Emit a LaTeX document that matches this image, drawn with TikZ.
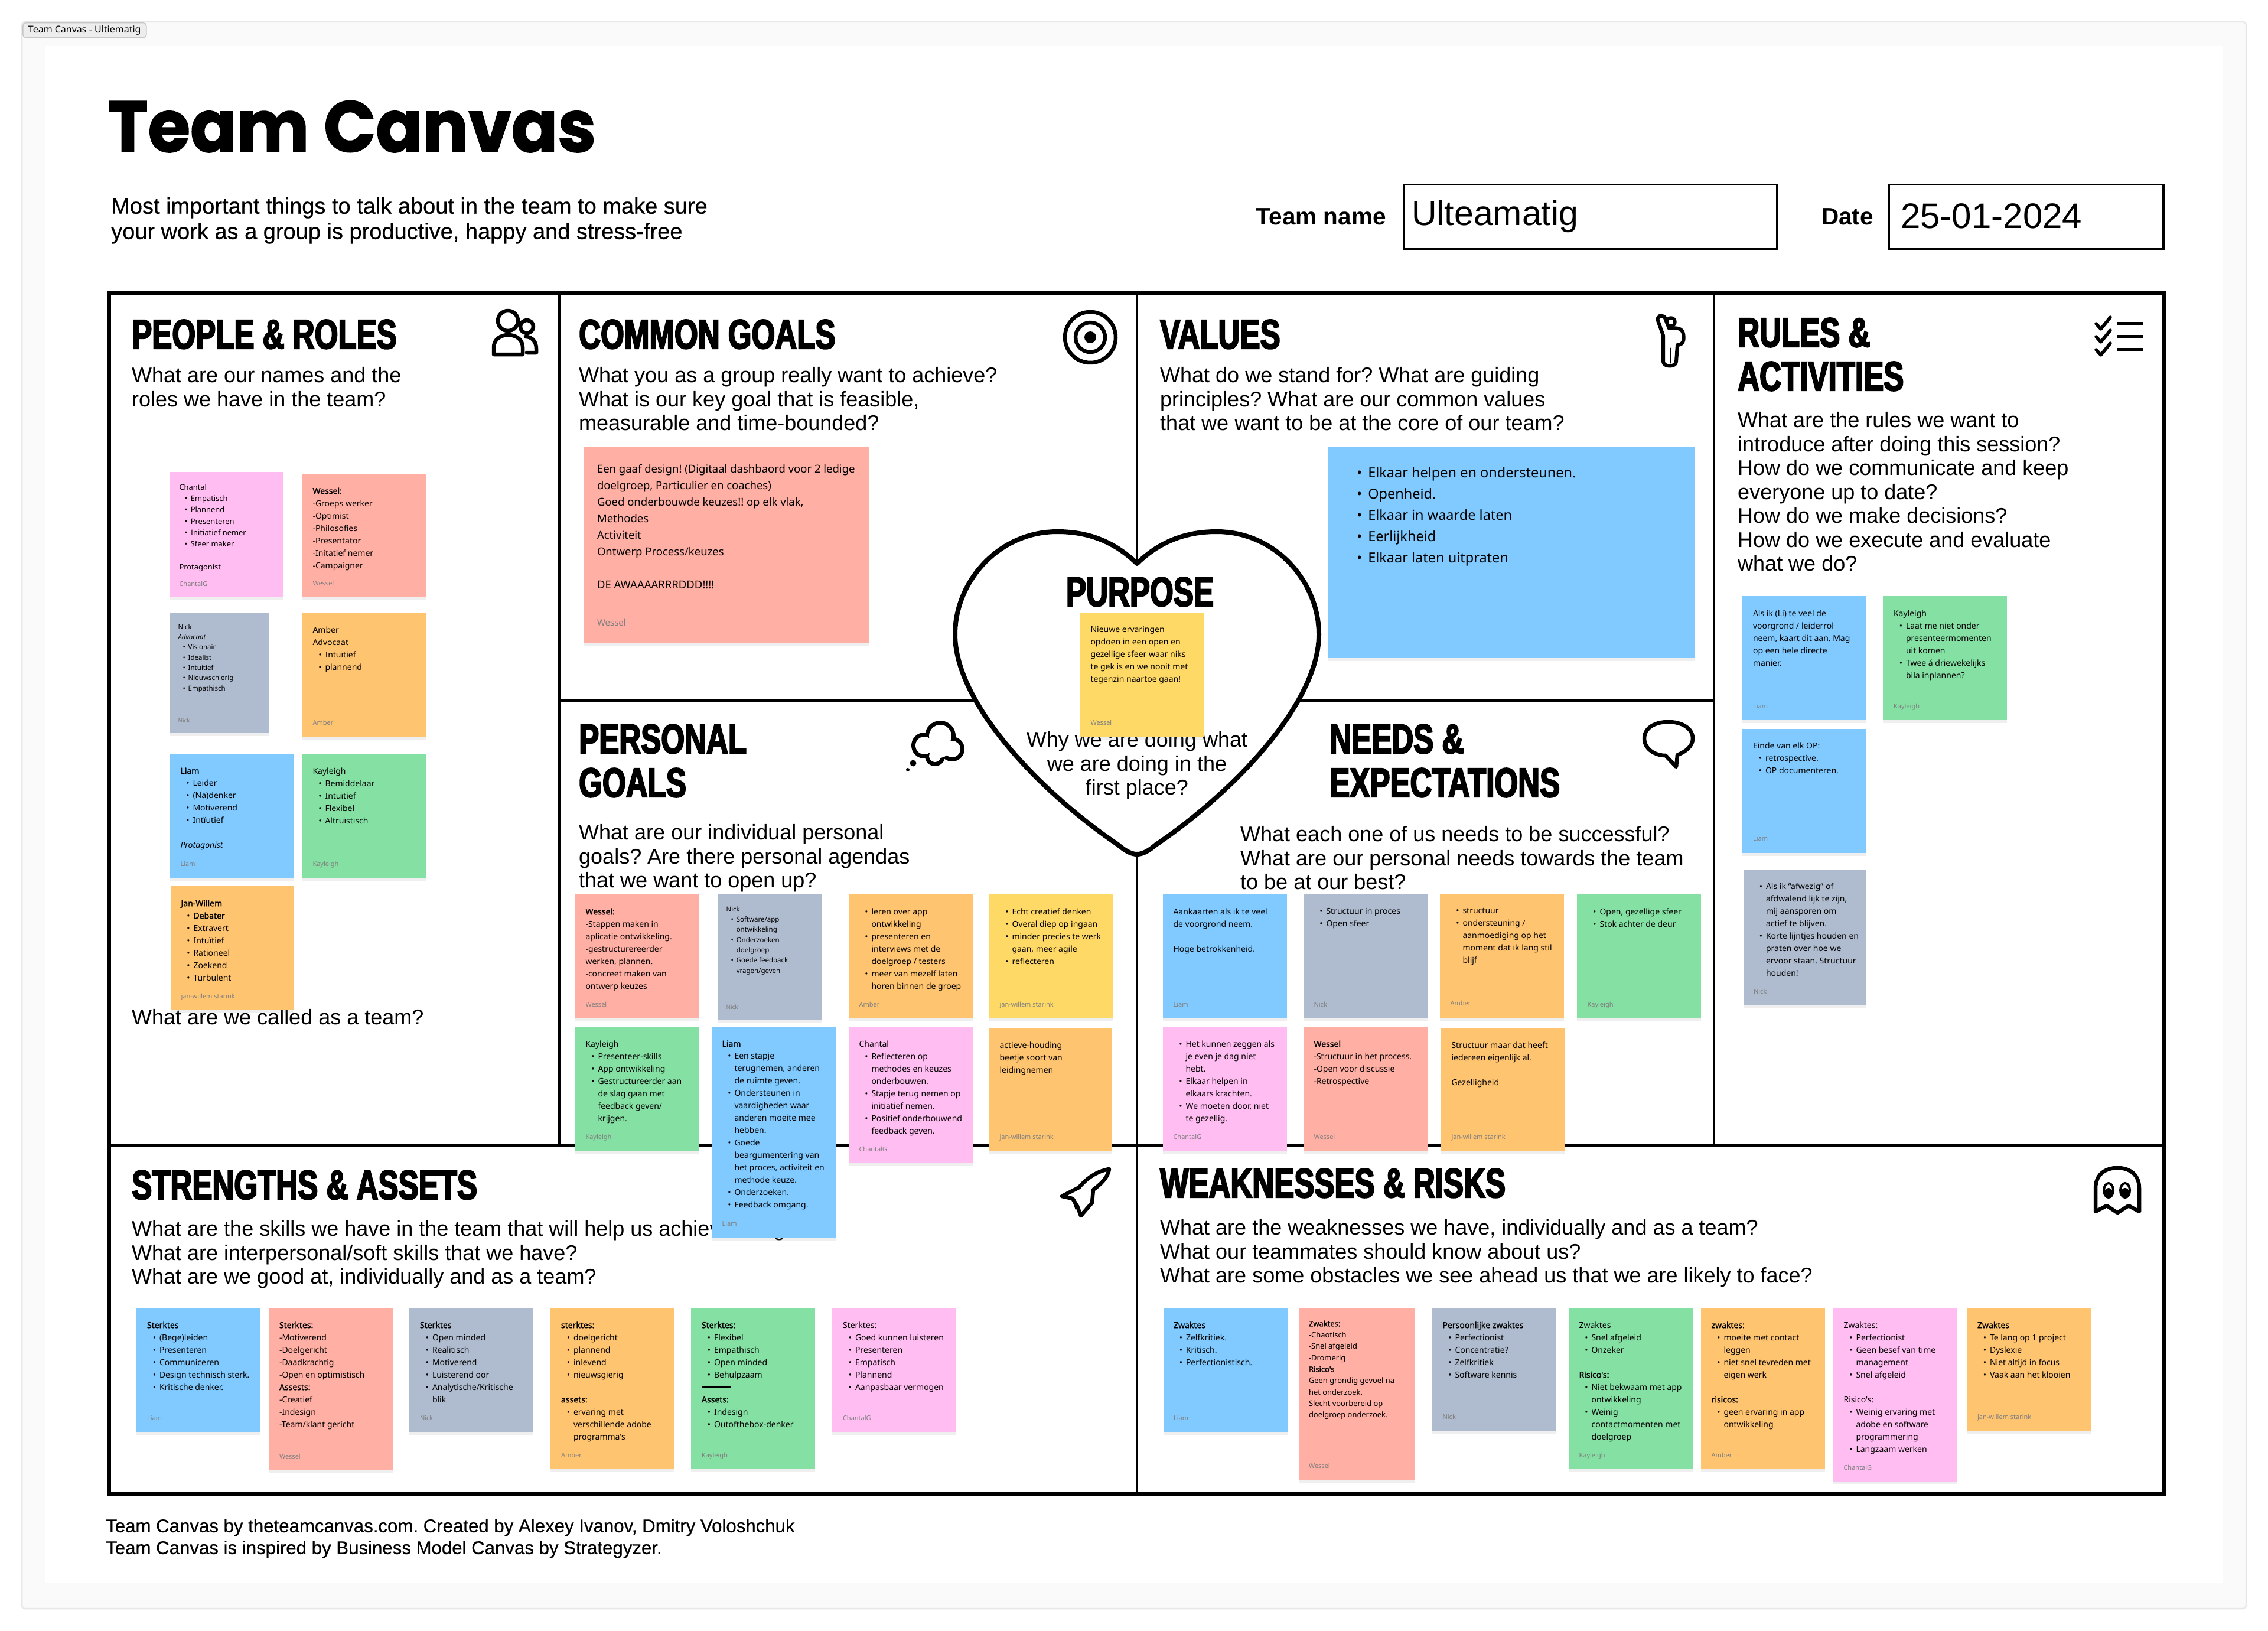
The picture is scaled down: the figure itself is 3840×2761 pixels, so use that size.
\documentclass[tikz,border=0pt]{standalone}
\usepackage{fontspec}
\usetikzlibrary{positioning,shadows}
\setmainfont{Liberation Sans}
\frenchspacing
\newfontfamily\notefont[BoldFont={Noto Sans},BoldFeatures={FakeBold=1.6}]{Noto Sans}
\newfontfamily\headfont[FakeStretch=0.73,FakeBold=3]{Liberation Sans Bold}
\newfontfamily\titlefont[FakeStretch=0.95,FakeBold=1.5]{Poppins Bold}
\newfontfamily\subfont[FakeBold=0.5]{Liberation Sans}
\newcommand{\blt}{\hspace*{.7em}\makebox[.8em][l]{\textbullet}}
\newcommand{\cnt}{\hspace*{1.5em}}
\definecolor{nblue}{HTML}{80CAFF}
\definecolor{nred}{HTML}{FFAFA3}
\definecolor{ngrey}{HTML}{AFBCCF}
\definecolor{norange}{HTML}{FFC470}
\definecolor{ngreen}{HTML}{85E0A3}
\definecolor{npink}{HTML}{FFBDF2}
\definecolor{nyellow}{HTML}{FFD966}
\tikzstyle{frame} = [draw=black, line width=7pt]
\tikzstyle{inner} = [draw=black, line width=3.5pt]
\tikzstyle{icon} = [draw=black, line width=6.5pt, line join=round, line cap=round]
\tikzstyle{head} = [anchor=north west, inner sep=0pt, align=left, font=\headfont\fontsize{70}{74}\selectfont, execute at begin node=\strut]
\tikzstyle{question} = [anchor=north west, inner sep=0pt, yshift=-3.5pt, align=left, font=\fontsize{36}{40.5}\selectfont, execute at begin node=\strut]
\tikzstyle{inputbox} = [draw=black, line width=3.5pt, anchor=north west, inner sep=0pt, minimum height=108pt]
\tikzstyle{sticky} = [rectangle, anchor=north west, inner sep=0pt, outer sep=0pt, minimum width=210pt, minimum height=210pt, drop shadow={shadow xshift=0pt, shadow yshift=-5pt, opacity=.12}]
\tikzstyle{note21} = [inner sep=0pt, outer sep=0pt, yshift=-4.5pt, align=left, text=black, font=\notefont\fontsize{14}{21}\selectfont, execute at begin node=\strut]
\tikzstyle{note19} = [note21, font=\notefont\fontsize{12.9}{19.3}\selectfont]
\tikzstyle{note17} = [note21, font=\notefont\fontsize{11.5}{17.3}\selectfont]
\tikzstyle{note28} = [note21, font=\notefont\fontsize{18.5}{28}\selectfont]
\tikzstyle{note36} = [note21, font=\notefont\fontsize{23.5}{36}\selectfont]
\tikzstyle{foot} = [inner sep=0pt, outer sep=0pt, text=black!50, font=\notefont\fontsize{11}{14}\selectfont, text height=9pt, text depth=3pt]
\begin{document}
\begin{tikzpicture}[x=1pt, y=-1pt]
\useasboundingbox (0,0) rectangle (3840,2761);

% page =============================
\fill[white] (0,0) rectangle (3840,2761);
\path[fill=black!2, draw=black!9, line width=2.5pt, rounded corners=6pt] (37,37) rectangle (3803,2723);
\fill[white] (77,78) rectangle (3764,2679);
\node[draw=black!22, fill=black!7, line width=1.5pt, rounded corners=5pt, inner sep=0pt, minimum width=209pt, minimum height=25pt, anchor=north west, font=\notefont\fontsize{16}{18}\selectfont] (tab) at (38,38) {Team Canvas - Ultiematig};

% header
\node[anchor=base west, inner sep=0pt, font=\titlefont\fontsize{122}{130}\selectfont] (title) at (182,257) {Team Canvas};
\node[anchor=north west, inner sep=0pt, align=left, font=\subfont\fontsize{38}{43}\selectfont, execute at begin node=\strut] (subtitle) at (188,334) {Most important things to talk about in the team to make sure\\your work as a group is productive, happy and stress-free};
\node[inputbox, minimum width=632pt] (teambox) at (2375,311) {};
\node[inputbox, minimum width=465pt] (datebox) at (3196,311) {};
\node[anchor=east, inner sep=0pt, font=\bfseries\fontsize{40.5}{44}\selectfont] (teamlabel) at (2347,367) {Team name};
\node[anchor=east, inner sep=0pt, font=\bfseries\fontsize{40.5}{44}\selectfont] (datelabel) at (3172,367) {Date};
\node[anchor=west, inner sep=0pt, font=\fontsize{59}{66}\selectfont] (teamname) at (2390,366) {Ulteamatig};
\node[anchor=west, inner sep=0pt, font=\fontsize{60}{66}\selectfont] (datevalue) at (3218,366) {25-01-2024};

% grid
\draw[inner] (947,495) -- (947,1939);
\draw[inner] (2902,495) -- (2902,1939);
\draw[inner] (1925,495) -- (1925,2528);
\draw[inner] (947,1186) -- (2902,1186);
\draw[inner] (184,1939) -- (3663,1939);
\draw[frame] (184,495) rectangle (3663,2528);

% heart
\path[draw=black, fill=white, line width=8pt, line join=round] (1925,954) .. controls (1885,915) and (1840,900) .. (1790,900) .. controls (1690,900) and (1617,985) .. (1617,1074) .. controls (1617,1190) and (1760,1340) .. (1893,1430) .. controls (1908,1443) and (1918,1446) .. (1925,1446) .. controls (1932,1446) and (1942,1443) .. (1957,1430) .. controls (2090,1340) and (2233,1190) .. (2233,1074) .. controls (2233,985) and (2160,900) .. (2060,900) .. controls (2010,900) and (1965,915) .. (1925,954) -- cycle;

% section titles
\node[head] (people) at (223,538) {PEOPLE \& ROLES};
\node[head] (common) at (980,538) {COMMON GOALS};
\node[head] (values) at (1964,538) {VALUES};
\node[head] (rules) at (2942,538) {RULES \&\\ACTIVITIES};
\node[head] (personal) at (980,1226) {PERSONAL\\GOALS};
\node[head] (needs) at (2251,1226) {NEEDS \&\\EXPECTATIONS};
\node[head] (strengths) at (223,1978) {STRENGTHS \& ASSETS};
\node[head] (weak) at (1964,1975) {WEAKNESSES \& RISKS};
\node[head, anchor=north, align=center] (purpose) at (1930,974) {PURPOSE};

% questions
\node[question] (qpeople) at (223,618) {What are our names and the\\roles we have in the team?};
\node[question] (qname) at (223,1702) {What are we called as a team?};
\node[question] (qcommon) at (980,618) {What you as a group really want to achieve?\\What is our key goal that is feasible,\\measurable and time-bounded?};
\node[question] (qvalues) at (1964,618) {What do we stand for? What are guiding\\principles? What are our common values\\that we want to be at the core of our team?};
\node[question] (qrules) at (2942,694) {What are the rules we want to\\introduce after doing this session?\\How do we communicate and keep\\everyone up to date?\\How do we make decisions?\\How do we execute and evaluate\\what we do?};
\node[question] (qpersonal) at (980,1392) {What are our individual personal\\goals? Are there personal agendas\\that we want to open up?};
\node[question] (qneeds) at (2100,1395) {What each one of us needs to be successful?\\What are our personal needs towards the team\\to be at our best?};
\node[question] (qstrengths) at (223,2063) {What are the skills we have in the team that will help us achieve the goals?\\What are interpersonal/soft skills that we have?\\What are we good at, individually and as a team?};
\node[question] (qweak) at (1964,2061) {What are the weaknesses we have, individually and as a team?\\What our teammates should know about us?\\What are some obstacles we see ahead us that we are likely to face?};
\node[question, anchor=north, align=center] (qpurpose) at (1925,1235) {Why we are doing what\\we are doing in the\\first place?};

% footer
\node[anchor=north west, inner sep=0pt, align=left, font=\subfont\fontsize{31.2}{37}\selectfont, execute at begin node=\strut] (credits) at (179,2571) {Team Canvas by theteamcanvas.com. Created by Alexey Ivanov, Dmitry Voloshchuk\\Team Canvas is inspired by Business Model Canvas by Strategyzer.};

% icons
\draw[icon] (860,543) circle (17);
\draw[icon] (836,600) -- (836,588) .. controls (836,560) and (885,560) .. (885,588) -- (885,600) -- cycle;
\draw[icon] (892,553) circle (11);
\draw[icon] (890,570) .. controls (902,570) and (908,580) .. (908,590) -- (908,597) -- (892,597);
\draw[icon] (1846,571) circle (43);
\draw[icon] (1846,571) circle (25);
\fill (1846,571) circle (10);
\draw[icon, line width=5.5pt] (2829,545) circle (7);
\draw[icon, line width=6pt] (2811,534) -- (2806,540) -- (2816,568) -- (2816,612) .. controls (2816,622) and (2838,622) .. (2838,612) -- (2840,584) .. controls (2850,584) and (2852,575) .. (2850,565) .. controls (2848,556) and (2840,554) .. (2826,556) -- (2818,536) -- cycle;
\draw[icon, line width=3pt] (2828,590) -- (2828,614);
\foreach \yc in {548,570,592} {
  \draw[icon, line width=5.5pt, line cap=butt] (3584,\yc) -- (3628,\yc);
  \draw[icon, line width=5.5pt] (3549,\yc) -- (3557,\yc+9) -- (3573,\yc-11);
}
\foreach \xc/\yc/\rc in {1565/1262/22,1592/1246/26,1612/1268/21,1583/1280/17}
  \fill (\xc,\yc) circle (\rc);
\foreach \xc/\yc/\rc in {1565/1262/15,1592/1246/19,1612/1268/14,1583/1280/10,1590/1262/21}
  \fill[white] (\xc,\yc) circle (\rc);
\fill (1546,1292) circle (5.5);
\fill (1537,1303) circle (3);
\path[draw=black, fill=white, line width=6.5pt, line join=round] (2840,1278) .. controls (2855,1272) and (2866,1263) .. (2866,1250) .. controls (2866,1232) and (2846,1222) .. (2825,1222) .. controls (2802,1222) and (2784,1232) .. (2784,1250) .. controls (2784,1268) and (2802,1279) .. (2820,1279) -- (2838,1298) -- cycle;
\draw[icon] (1878,1979) .. controls (1860,1982) and (1842,1992) .. (1827,2010) -- (1798,2025) -- (1816,2029) -- (1824,2042) -- (1830,2058) -- (1849,2036) -- (1851,2014) .. controls (1866,2003) and (1876,1992) .. (1878,1979) -- cycle;
\fill (1816,2034) -- (1825,2040) -- (1821,2048) -- cycle;
\draw[icon] (3548,2051) -- (3548,2012) .. controls (3548,1985) and (3568,1977) .. (3585,1977) .. controls (3602,1977) and (3622,1985) .. (3622,2012) -- (3622,2051) -- (3604,2041) -- (3585,2053) -- (3567,2041) -- cycle;
\draw[line width=4pt] (3570,2015) ellipse (8 and 12);
\draw[line width=4pt] (3598,2015) ellipse (8 and 12);
\fill (3570,2019) ellipse (7 and 8);
\fill (3598,2019) ellipse (7 and 8);

% people and roles notes
\node[sticky, fill=npink, minimum width=191pt, minimum height=212pt] (pchantal) at (288,799) {};
\node[note19, below right=16pt and 15.5pt of pchantal.north west] (pchantaltxt) {Chantal\\\blt Empatisch\\\blt Plannend\\\blt Presenteren\\\blt Initiatief nemer\\\blt Sfeer maker\\~\\Protagonist};
\node[foot, above right=16pt and 15.5pt of pchantal.south west] (pchantalfoot) {ChantalG};

\node[sticky, fill=nred, minimum width=209pt, minimum height=209pt] (pwessel) at (512,802) {};
\node[note21, below right=19pt and 17.5pt of pwessel.north west] (pwesseltxt) {\textbf{Wessel:}\\-Groeps werker\\-Optimist\\-Philosofies\\-Presentator\\-Initatief nemer\\-Campaigner};
\node[foot, above right=17pt and 17.5pt of pwessel.south west] (pwesselfoot) {Wessel};

\node[sticky, fill=ngrey, minimum width=167.5pt, minimum height=204pt] (pnick) at (288,1037) {};
\node[note17, below right=15pt and 13.5pt of pnick.north west] (pnicktxt) {Nick\\\textit{Advocaat}\\\blt Visionair\\\blt Idealist\\\blt Intuitief\\\blt Nieuwschierig\\\blt Empathisch};
\node[foot, above right=15pt and 13.5pt of pnick.south west, font=\notefont\fontsize{10}{12}\selectfont] (pnickfoot) {Nick};

\node[sticky, fill=norange, minimum width=209pt] (pamber) at (512,1037) {};
\node[note21, below right=19pt and 17.5pt of pamber.north west] (pambertxt) {Amber\\Advocaat\\\blt Intuïtief\\\blt plannend};
\node[foot, above right=17pt and 17.5pt of pamber.south west] (pamberfoot) {Amber};

\node[sticky, fill=nblue, minimum width=209pt] (pliam) at (288,1276) {};
\node[note21, below right=19pt and 17.5pt of pliam.north west] (pliamtxt) {\textbf{Liam}\\\blt Leider\\\blt (Na)denker\\\blt Motiverend\\\blt Intïutief\\~\\\textit{Protagonist}};
\node[foot, above right=17pt and 17.5pt of pliam.south west] (pliamfoot) {Liam};

\node[sticky, fill=ngreen, minimum width=209pt] (pkayleigh) at (512,1276) {};
\node[note21, below right=19pt and 17.5pt of pkayleigh.north west] (pkayleightxt) {Kayleigh\\\blt Bemiddelaar\\\blt Intuïtief\\\blt Flexibel\\\blt Altruïstisch};
\node[foot, above right=17pt and 17.5pt of pkayleigh.south west] (pkayleighfoot) {Kayleigh};

\node[sticky, fill=norange, minimum width=208pt] (pjan) at (289,1500) {};
\node[note21, below right=19pt and 17.5pt of pjan.north west] (pjantxt) {\textbf{Jan-Willem}\\\blt \textbf{Debater}\\\blt Extravert\\\blt Intuïtief\\\blt Rationeel\\\blt Zoekend\\\blt Turbulent};
\node[foot, above right=17pt and 17.5pt of pjan.south west] (pjanfoot) {jan-willem starink};

% common goals and values notes
\node[sticky, fill=nred, minimum width=484pt, minimum height=331pt] (cwessel) at (988,757) {};
\node[note28, below right=25pt and 23pt of cwessel.north west] (cwesseltxt) {Een gaaf design! (Digitaal dashbaord voor 2 ledige\\doelgroep, Particulier en coaches)\\Goed onderbouwde keuzes!! op elk vlak,\\Methodes\\Activiteit\\Ontwerp Process/keuzes\\~\\DE AWAAAARRRDDD!!!!};
\node[foot, above right=26pt and 23pt of cwessel.south west, font=\notefont\fontsize{15}{18}\selectfont] (cwesselfoot) {Wessel};

\node[sticky, fill=nblue, minimum width=622pt, minimum height=357pt] (vgroup) at (2248,757) {};
\node[note36, below right=29pt and 33pt of vgroup.north west] (vgrouptxt) {\blt Elkaar helpen en ondersteunen.\\\blt Openheid.\\\blt Elkaar in waarde laten\\\blt Eerlijkheid\\\blt Elkaar laten uitpraten};

% purpose note
\node[sticky, fill=nyellow] (uwessel) at (1829,1037) {};
\node[note21, below right=19pt and 17.5pt of uwessel.north west] (uwesseltxt) {Nieuwe ervaringen\\opdoen in een open en\\gezellige sfeer waar niks\\te gek is en we nooit met\\tegenzin naartoe gaan!};
\node[foot, above right=17pt and 17.5pt of uwessel.south west] (uwesselfoot) {Wessel};

% rules notes
\node[sticky, fill=nblue] (rliama) at (2950,1009) {};
\node[note21, below right=19pt and 18pt of rliama.north west] (rliamatxt) {Als ik (Li) te veel de\\voorgrond / leiderrol\\neem, kaart dit aan. Mag\\op een hele directe\\manier.};
\node[foot, above right=17pt and 18pt of rliama.south west] (rliamafoot) {Liam};

\node[sticky, fill=ngreen] (rkayleigh) at (3188,1009) {};
\node[note21, below right=19pt and 18pt of rkayleigh.north west] (rkayleightxt) {Kayleigh\\\blt Laat me niet onder\\\cnt presenteermomenten\\\cnt uit komen\\\blt Twee á driewekelijks\\\cnt bila inplannen?};
\node[foot, above right=17pt and 18pt of rkayleigh.south west] (rkayleighfoot) {Kayleigh};

\node[sticky, fill=nblue] (rliamb) at (2950,1233.5) {};
\node[note21, below right=19pt and 18pt of rliamb.north west] (rliambtxt) {Einde van elk OP:\\\blt retrospective.\\\blt OP documenteren.};
\node[foot, above right=17pt and 18pt of rliamb.south west] (rliambfoot) {Liam};

\node[sticky, fill=ngrey, minimum width=208pt, minimum height=230.5pt] (rnick) at (2952,1471.5) {};
\node[note21, below right=19pt and 17pt of rnick.north west] (rnicktxt) {\blt Als ik “afwezig” of\\\cnt afdwalend lijk te zijn,\\\cnt mij aansporen om\\\cnt actief te blijven.\\\blt Korte lijntjes houden en\\\cnt praten over hoe we\\\cnt ervoor staan. Structuur\\\cnt houden!};
\node[foot, above right=17pt and 17pt of rnick.south west] (rnickfoot) {Nick};

% personal goals notes
\node[sticky, fill=nred] (gwessel) at (974,1514) {};
\node[note21, below right=19pt and 17.5pt of gwessel.north west] (gwesseltxt) {\textbf{Wessel:}\\-Stappen maken in\\aplicatie ontwikkeling.\\-gestructurereerder\\werken, plannen.\\-concreet maken van\\ontwerp keuzes};
\node[foot, above right=17pt and 17.5pt of gwessel.south west] (gwesselfoot) {Wessel};

\node[sticky, fill=ngrey, minimum width=177pt, minimum height=212pt] (gnick) at (1215,1514) {};
\node[note17, below right=16pt and 14.5pt of gnick.north west] (gnicktxt) {Nick\\\blt Software/app\\\cnt ontwikkeling\\\blt Onderzoeken\\\cnt doelgroep\\\blt Goede feedback\\\cnt vragen/geven};
\node[foot, above right=15pt and 14.5pt of gnick.south west, font=\notefont\fontsize{10}{12}\selectfont] (gnickfoot) {Nick};

\node[sticky, fill=norange] (gamber) at (1437,1514) {};
\node[note21, below right=19pt and 17.5pt of gamber.north west] (gambertxt) {\blt leren over app\\\cnt ontwikkeling\\\blt presenteren en\\\cnt interviews met de\\\cnt doelgroep / testers\\\blt meer van mezelf laten\\\cnt horen binnen de groep};
\node[foot, above right=17pt and 17.5pt of gamber.south west] (gamberfoot) {Amber};

\node[sticky, fill=nyellow] (gjan) at (1675,1514) {};
\node[note21, below right=19pt and 17.5pt of gjan.north west] (gjantxt) {\blt Echt creatief denken\\\blt Overal diep op ingaan\\\blt minder precies te werk\\\cnt gaan, meer agile\\\blt reflecteren};
\node[foot, above right=17pt and 17.5pt of gjan.south west] (gjanfoot) {jan-willem starink};

\node[sticky, fill=ngreen] (gkayleigh) at (974,1738) {};
\node[note21, below right=19pt and 17.5pt of gkayleigh.north west] (gkayleightxt) {Kayleigh\\\blt Presenteer-skills\\\blt App ontwikkeling\\\blt Gestructureerder aan\\\cnt de slag gaan met\\\cnt feedback geven/\\\cnt krijgen.};
\node[foot, above right=17pt and 17.5pt of gkayleigh.south west] (gkayleighfoot) {Kayleigh};

\node[sticky, fill=nblue, minimum height=357pt] (gliam) at (1205,1738) {};
\node[note21, below right=19pt and 17.5pt of gliam.north west] (gliamtxt) {\textbf{Liam}\\\blt Een stapje\\\cnt terugnemen, anderen\\\cnt de ruimte geven.\\\blt Ondersteunen in\\\cnt vaardigheden waar\\\cnt anderen moeite mee\\\cnt hebben.\\\blt Goede\\\cnt beargumentering van\\\cnt het proces, activiteit en\\\cnt methode keuze.\\\blt Onderzoeken.\\\blt Feedback omgang.};
\node[foot, above right=17pt and 17.5pt of gliam.south west] (gliamfoot) {Liam};

\node[sticky, fill=npink, minimum height=231pt] (gchantal) at (1437,1738) {};
\node[note21, below right=19pt and 17.5pt of gchantal.north west] (gchantaltxt) {Chantal\\\blt Reflecteren op\\\cnt methodes en keuzes\\\cnt onderbouwen.\\\blt Stapje terug nemen op\\\cnt initiatief nemen.\\\blt Positief onderbouwend\\\cnt feedback geven.};
\node[foot, above right=17pt and 17.5pt of gchantal.south west] (gchantalfoot) {ChantalG};

\node[sticky, fill=norange, minimum width=208pt, minimum height=208pt] (gactief) at (1675,1740) {};
\node[note21, below right=19pt and 17.5pt of gactief.north west] (gactieftxt) {actieve-houding\\beetje soort van\\leidingnemen};
\node[foot, above right=17pt and 17.5pt of gactief.south west] (gactieffoot) {jan-willem starink};

% needs notes
\node[sticky, fill=nblue] (nliam) at (1969,1514) {};
\node[note21, below right=19pt and 17.5pt of nliam.north west] (nliamtxt) {Aankaarten als ik te veel\\de voorgrond neem.\\~\\Hoge betrokkenheid.};
\node[foot, above right=17pt and 17.5pt of nliam.south west] (nliamfoot) {Liam};

\node[sticky, fill=ngrey] (nnick) at (2207,1514) {};
\node[note21, below right=19pt and 17.5pt of nnick.north west] (nnicktxt) {\blt Structuur in proces\\\blt Open sfeer};
\node[foot, above right=17pt and 17.5pt of nnick.south west] (nnickfoot) {Nick};

\node[sticky, fill=norange] (namber) at (2438,1514) {};
\node[note21, below right=19pt and 17.5pt of namber.north west] (nambertxt) {\blt structuur\\\blt ondersteuning /\\\cnt aanmoediging op het\\\cnt moment dat ik lang stil\\\cnt blijf};
\node[foot, above right=19pt and 17.5pt of namber.south west] (namberfoot) {Amber};

\node[sticky, fill=ngreen] (nkayleigh) at (2670,1514) {};
\node[note21, below right=19pt and 17.5pt of nkayleigh.north west] (nkayleightxt) {\blt Open, gezellige sfeer\\\blt Stok achter de deur};
\node[foot, above right=17pt and 17.5pt of nkayleigh.south west] (nkayleighfoot) {Kayleigh};

\node[sticky, fill=npink] (nchantal) at (1969,1738) {};
\node[note21, below right=19pt and 17.5pt of nchantal.north west] (nchantaltxt) {\blt Het kunnen zeggen als\\\cnt je even je dag niet\\\cnt hebt.\\\blt Elkaar helpen in\\\cnt elkaars krachten.\\\blt We moeten door, niet\\\cnt te gezellig.};
\node[foot, above right=17pt and 17.5pt of nchantal.south west] (nchantalfoot) {ChantalG};

\node[sticky, fill=nred] (nwessel) at (2207,1738) {};
\node[note21, below right=19pt and 17.5pt of nwessel.north west] (nwesseltxt) {\textbf{Wessel}\\-Structuur in het process.\\-Open voor discussie\\-Retrospective};
\node[foot, above right=17pt and 17.5pt of nwessel.south west] (nwesselfoot) {Wessel};

\node[sticky, fill=norange, minimum width=209pt, minimum height=208pt] (njan) at (2440,1740) {};
\node[note21, below right=19pt and 17.5pt of njan.north west] (njantxt) {Structuur maar dat heeft\\iedereen eigenlijk al.\\~\\Gezelligheid};
\node[foot, above right=17pt and 17.5pt of njan.south west] (njanfoot) {jan-willem starink};

% strengths notes
\node[sticky, fill=nblue] (sliam) at (231,2214) {};
\node[note21, below right=19pt and 18pt of sliam.north west] (sliamtxt) {\textbf{Sterktes}\\\blt (Bege)leiden\\\blt Presenteren\\\blt Communiceren\\\blt Design technisch sterk.\\\blt Kritische denker.};
\node[foot, above right=17pt and 18pt of sliam.south west] (sliamfoot) {Liam};

\node[sticky, fill=nred, minimum height=275pt] (swessel) at (455,2214) {};
\node[note21, below right=19pt and 18pt of swessel.north west] (swesseltxt) {\textbf{Sterktes:}\\-Motiverend\\-Doelgericht\\-Daadkrachtig\\-Open en optimistisch\\\textbf{Assests:}\\-Creatief\\-Indesign\\-Team/klant gericht};
\node[foot, above right=17pt and 18pt of swessel.south west] (swesselfoot) {Wessel};

\node[sticky, fill=ngrey] (snick) at (693,2214) {};
\node[note21, below right=19pt and 18pt of snick.north west] (snicktxt) {\textbf{Sterktes}\\\blt Open minded\\\blt Realitisch\\\blt Motiverend\\\blt Luisterend oor\\\blt Analytische/Kritische\\\cnt blik};
\node[foot, above right=17pt and 18pt of snick.south west] (snickfoot) {Nick};

\node[sticky, fill=norange, minimum height=273pt] (samber) at (932,2214) {};
\node[note21, below right=19pt and 18pt of samber.north west] (sambertxt) {\textbf{sterktes:}\\\blt doelgericht\\\blt plannend\\\blt inlevend\\\blt nieuwsgierig\\~\\\textbf{assets:}\\\blt ervaring met\\\cnt verschillende adobe\\\cnt programma's};
\node[foot, above right=17pt and 18pt of samber.south west] (samberfoot) {Amber};

\node[sticky, fill=ngreen, minimum height=273pt] (skayleigh) at (1170,2214) {};
\node[note21, below right=19pt and 18pt of skayleigh.north west] (skayleightxt) {\textbf{Sterktes:}\\\blt Flexibel\\\blt Empathisch\\\blt Open minded\\\blt Behulpzaam\\\rule[.3em]{50pt}{1.5pt}\\\textbf{Assets:}\\\blt Indesign\\\blt Outofthebox-denker};
\node[foot, above right=17pt and 18pt of skayleigh.south west] (skayleighfoot) {Kayleigh};

\node[sticky, fill=npink] (schantal) at (1409,2214) {};
\node[note21, below right=19pt and 18pt of schantal.north west] (schantaltxt) {Sterktes:\\\blt Goed kunnen luisteren\\\blt Presenteren\\\blt Empatisch\\\blt Plannend\\\blt Aanpasbaar vermogen};
\node[foot, above right=17pt and 18pt of schantal.south west] (schantalfoot) {ChantalG};

% weaknesses notes
\node[sticky, fill=nblue] (wliam) at (1969.5,2214) {};
\node[note21, below right=19pt and 17.5pt of wliam.north west] (wliamtxt) {\textbf{Zwaktes}\\\blt Zelfkritiek.\\\blt Kritisch.\\\blt Perfectionistisch.};
\node[foot, above right=17pt and 17.5pt of wliam.south west] (wliamfoot) {Liam};

\node[sticky, fill=nred, minimum width=196pt, minimum height=291pt] (wwessel) at (2200,2214) {};
\node[note19, below right=17pt and 16pt of wwessel.north west] (wwesseltxt) {\textbf{Zwaktes:}\\-Chaotisch\\-Snel afgeleid\\-Dromerig\\\textbf{Risico's}\\Geen grondig gevoel na\\het onderzoek.\\Slecht voorbereid op\\doelgroep onderzoek.};
\node[foot, above right=17pt and 16pt of wwessel.south west] (wwesselfoot) {Wessel};

\node[sticky, fill=ngrey, minimum height=208pt] (wnick) at (2425,2214) {};
\node[note21, below right=19pt and 17.5pt of wnick.north west] (wnicktxt) {\textbf{Persoonlijke zwaktes}\\\blt Perfectionist\\\blt Concentratie?\\\blt Zelfkritiek\\\blt Software kennis};
\node[foot, above right=17pt and 17.5pt of wnick.south west] (wnickfoot) {Nick};

\node[sticky, fill=ngreen, minimum height=273pt] (wkayleigh) at (2656,2214) {};
\node[note21, below right=19pt and 17.5pt of wkayleigh.north west] (wkayleightxt) {Zwaktes\\\blt Snel afgeleid\\\blt Onzeker\\~\\\textbf{Risico's:}\\\blt Niet bekwaam met app\\\cnt ontwikkeling\\\blt Weinig\\\cnt contactmomenten met\\\cnt doelgroep};
\node[foot, above right=17pt and 17.5pt of wkayleigh.south west] (wkayleighfoot) {Kayleigh};

\node[sticky, fill=norange, minimum height=273pt] (wamber) at (2880,2214) {};
\node[note21, below right=19pt and 17.5pt of wamber.north west] (wambertxt) {\textbf{zwaktes:}\\\blt moeite met contact\\\cnt leggen\\\blt niet snel tevreden met\\\cnt eigen werk\\~\\\textbf{risicos:}\\\blt geen ervaring in app\\\cnt ontwikkeling};
\node[foot, above right=17pt and 17.5pt of wamber.south west] (wamberfoot) {Amber};

\node[sticky, fill=npink, minimum height=294pt] (wchantal) at (3104,2214) {};
\node[note21, below right=19pt and 17.5pt of wchantal.north west] (wchantaltxt) {Zwaktes:\\\blt Perfectionist\\\blt Geen besef van time\\\cnt management\\\blt Snel afgeleid\\~\\Risico's:\\\blt Weinig ervaring met\\\cnt adobe en software\\\cnt programmering\\\blt Langzaam werken};
\node[foot, above right=17pt and 17.5pt of wchantal.south west] (wchantalfoot) {ChantalG};

\node[sticky, fill=norange, minimum height=208pt] (wjan) at (3330.5,2214) {};
\node[note21, below right=19pt and 17.5pt of wjan.north west] (wjantxt) {\textbf{Zwaktes}\\\blt Te lang op 1 project\\\blt Dyslexie\\\blt Niet altijd in focus\\\blt Vaak aan het klooien};
\node[foot, above right=17pt and 17.5pt of wjan.south west] (wjanfoot) {jan-willem starink};

\end{tikzpicture}
\end{document}
